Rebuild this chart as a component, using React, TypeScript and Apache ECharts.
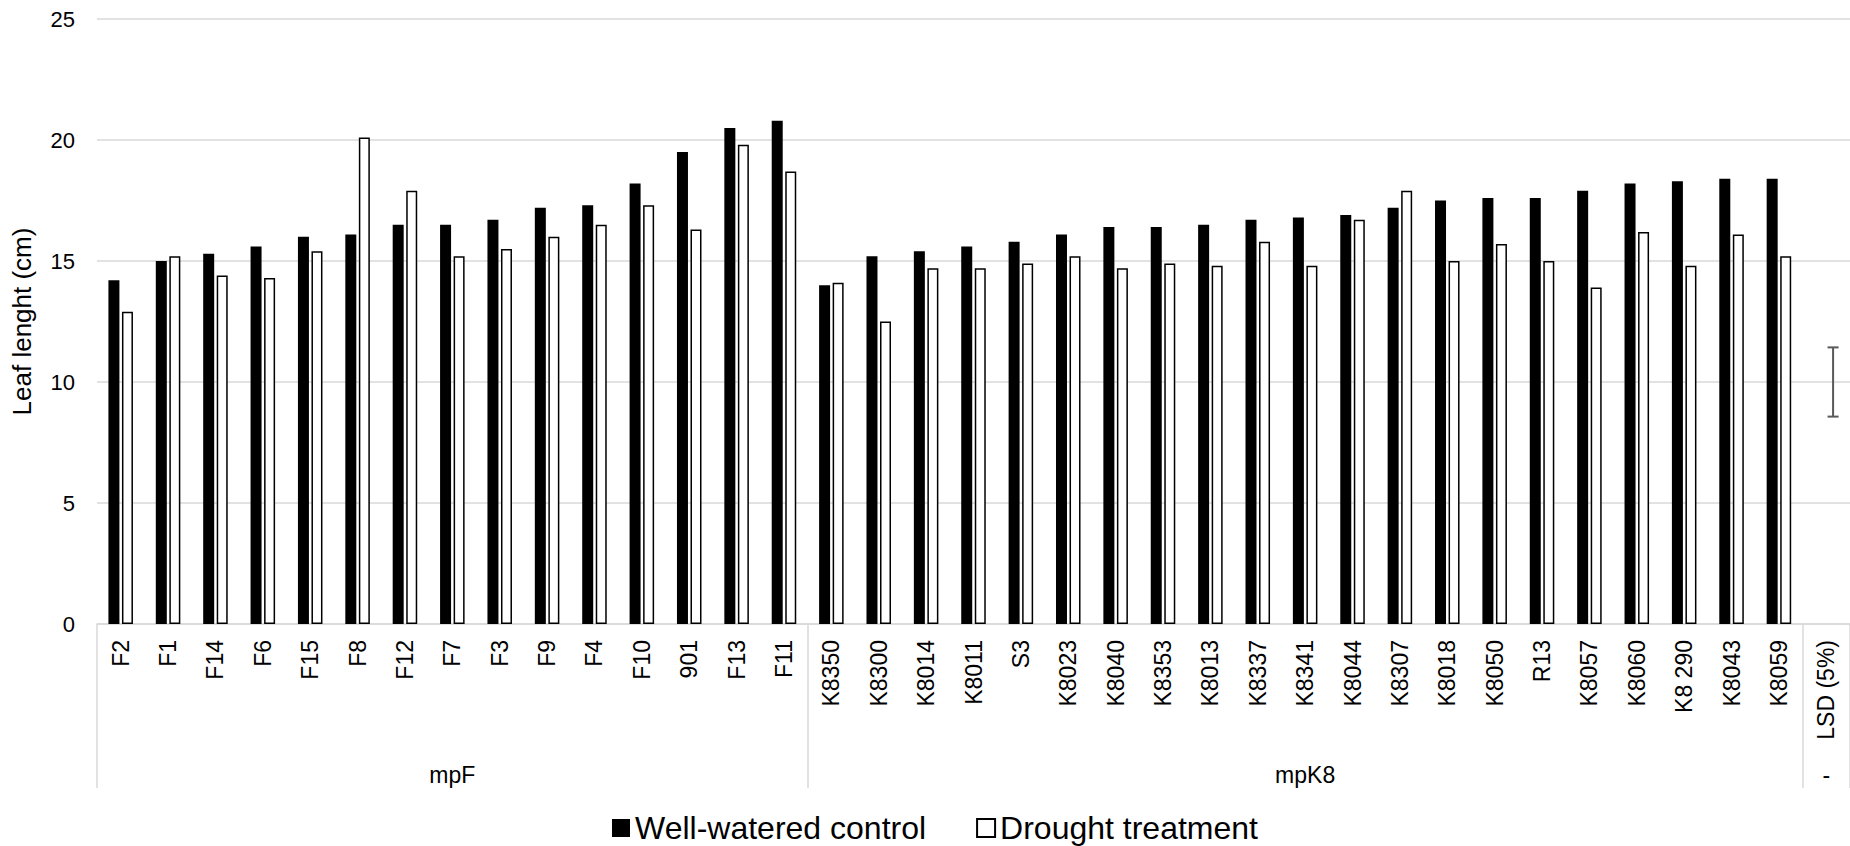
import React, { useEffect, useRef } from 'react';
import * as echarts from 'echarts';

const categories = [
  'F2', 'F1', 'F14', 'F6', 'F15', 'F8', 'F12', 'F7', 'F3', 'F9', 'F4', 'F10', '901', 'F13', 'F11',
  'K8350', 'K8300', 'K8014', 'K8011', 'S3', 'K8023', 'K8040', 'K8353', 'K8013', 'K8337', 'K8341',
  'K8044', 'K8307', 'K8018', 'K8050', 'R13', 'K8057', 'K8060', 'K8 290', 'K8043', 'K8059',
  'LSD (5%)',
];

const controlValues = [
  14.2, 15.0, 15.3, 15.6, 16.0, 16.1, 16.5, 16.5, 16.7, 17.2, 17.3, 18.2, 19.5, 20.5, 20.8,
  14.0, 15.2, 15.4, 15.6, 15.8, 16.1, 16.4, 16.4, 16.5, 16.7, 16.8,
  16.9, 17.2, 17.5, 17.6, 17.6, 17.9, 18.2, 18.3, 18.4, 18.4,
  null,
];

const droughtValues = [
  12.9, 15.2, 14.4, 14.3, 15.4, 20.1, 17.9, 15.2, 15.5, 16.0, 16.5, 17.3, 16.3, 19.8, 18.7,
  14.1, 12.5, 14.7, 14.7, 14.9, 15.2, 14.7, 14.9, 14.8, 15.8, 14.8,
  16.7, 17.9, 15.0, 15.7, 15.0, 13.9, 16.2, 14.8, 16.1, 15.2,
  null,
];

const groupNames = ['mpF', 'mpK8', '-'];
const groupSizes = [15, 21, 1];

const lsdCenter = 10;
const lsdHalfRange = 1.43;

const seriesNames = ['Well-watered control', 'Drought treatment'];
const yAxisTitle = 'Leaf lenght (cm)';
const yMin = 0;
const yMax = 25;
const yInterval = 5;

const FONT = "'Liberation Sans', Arial, Helvetica, sans-serif";

export default function App() {
  const ref = useRef<HTMLDivElement>(null);

  useEffect(() => {
    if (!ref.current) return;
    const chart = echarts.init(ref.current, null, { renderer: 'svg' });

    const boundaryIdx: number[] = [];
    const centerLabel: Record<number, string> = {};
    let start = 0;
    groupSizes.forEach((size, gi) => {
      boundaryIdx.push(start);
      centerLabel[start + (size - 1) / 2] = groupNames[gi];
      start += size;
    });

    const BAR_W = 11;
    const GAP = 0.23;
    const errOffset = (BAR_W * (1 + GAP)) / 2;
    const gridColor = '#d9d9d9';

    chart.setOption({
      animation: false,
      textStyle: { fontFamily: FONT },
      grid: { left: 97, top: 19, width: 1755, height: 605, containLabel: false },
      legend: {
        data: seriesNames,
        left: 607,
        top: 807,
        icon: 'rect',
        itemWidth: 18,
        itemHeight: 18,
        itemGap: 50,
        textStyle: { fontSize: 32, color: '#000', fontFamily: FONT },
      },
      xAxis: [
        {
          type: 'category',
          data: categories,
          axisLine: { lineStyle: { color: gridColor, width: 1.5 } },
          axisTick: {
            show: true,
            interval: (i: number) => boundaryIdx.includes(i),
            length: 164,
            lineStyle: { color: gridColor, width: 1.5 },
          },
          axisLabel: {
            interval: 0,
            rotate: 90,
            margin: 16,
            fontSize: 23,
            color: '#000',
            fontFamily: FONT,
          },
          splitLine: { show: false },
        },
        {
          type: 'category',
          data: categories,
          position: 'bottom',
          axisLine: { show: false },
          axisTick: { show: false },
          axisLabel: {
            interval: (i: number) => centerLabel[i] !== undefined,
            formatter: (_v: string, i: number) => centerLabel[i] ?? '',
            margin: 151,
            verticalAlign: 'middle',
            fontSize: 23,
            color: '#000',
            fontFamily: FONT,
          },
          splitLine: { show: false },
        },
      ],
      yAxis: {
        type: 'value',
        min: yMin,
        max: yMax,
        interval: yInterval,
        axisLine: { show: false },
        axisTick: { show: false },
        axisLabel: { fontSize: 22, color: '#000', margin: 22, fontFamily: FONT },
        splitLine: { lineStyle: { color: gridColor, width: 1.5 } },
        name: yAxisTitle,
        nameLocation: 'middle',
        nameRotate: 90,
        nameGap: 62,
        nameTextStyle: { fontSize: 26, color: '#000', fontFamily: FONT },
      },
      series: [
        {
          name: seriesNames[0],
          type: 'bar',
          data: controlValues,
          barWidth: BAR_W,
          barGap: `${GAP * 100}%`,
          itemStyle: { color: '#000' },
        },
        {
          name: seriesNames[1],
          type: 'bar',
          data: droughtValues,
          barWidth: BAR_W,
          barGap: `${GAP * 100}%`,
          itemStyle: { color: '#fff', borderColor: '#000', borderWidth: 1.5 },
        },
        {
          name: 'LSD',
          type: 'custom',
          data: [[categories.length - 1, lsdCenter, lsdHalfRange]],
          encode: { x: 0, y: 1 },
          z: 5,
          renderItem: (_params: any, api: any) => {
            const idx = api.value(0);
            const c = api.value(1);
            const h = api.value(2);
            const top = api.coord([idx, c + h]);
            const bot = api.coord([idx, c - h]);
            const x = top[0] + errOffset;
            const cap = 5.5;
            const style = { stroke: '#595959', lineWidth: 2 };
            return {
              type: 'group',
              children: [
                { type: 'line', shape: { x1: x, y1: top[1], x2: x, y2: bot[1] }, style },
                { type: 'line', shape: { x1: x - cap, y1: top[1], x2: x + cap, y2: top[1] }, style },
                { type: 'line', shape: { x1: x - cap, y1: bot[1], x2: x + cap, y2: bot[1] }, style },
              ],
            };
          },
        },
      ],
    });

    return () => chart.dispose();
  }, []);

  return (
    <div
      ref={ref}
      style={{ position: 'fixed', left: 0, top: 0, width: 1850, height: 846, background: '#fff' }}
    />
  );
}
